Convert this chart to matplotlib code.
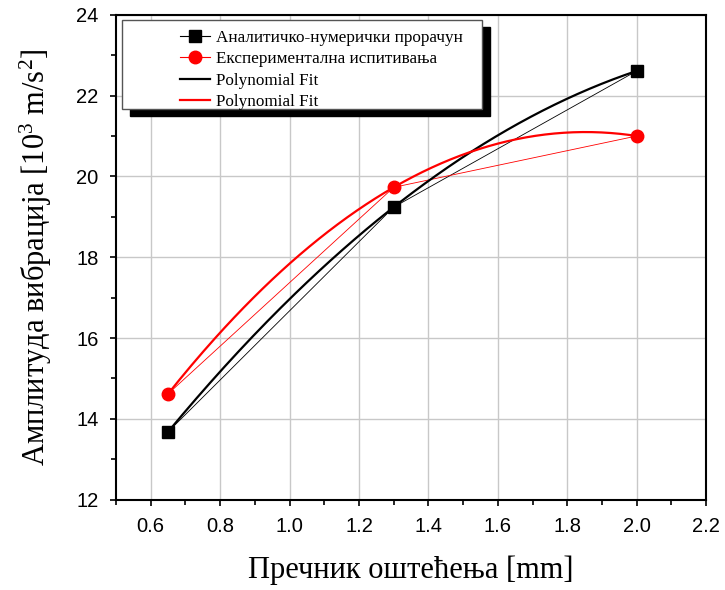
import numpy as np
import matplotlib
matplotlib.use("Agg")
import matplotlib.pyplot as plt
from matplotlib.patches import Rectangle
from matplotlib.lines import Line2D
from matplotlib.ticker import MultipleLocator, FormatStrFormatter

plt.rcParams['mathtext.fontset'] = 'custom'
plt.rcParams['mathtext.rm'] = 'Liberation Serif'
plt.rcParams['mathtext.it'] = 'Liberation Serif:italic'

# Damage diameter [mm]
diameter = [0.65, 1.3, 2.0]
# Vibration amplitude [10^3 m/s^2]
numerical = [13.68, 19.24, 22.61]
experimental = [14.62, 19.73, 21.00]

label_num = "Аналитичко-нумерички прорачун"
label_exp = "Експериментална испитивања"
label_fit = "Polynomial Fit"

serif = "Liberation Serif"
sans = "Liberation Sans"

fig = plt.figure(figsize=(7.25, 5.90), dpi=100)
ax = fig.add_axes([0.160, 0.153, 0.814, 0.822])

# second-order polynomial fits
xs = np.linspace(min(diameter), max(diameter), 200)
fit_num = np.polyval(np.polyfit(diameter, numerical, 2), xs)
fit_exp = np.polyval(np.polyfit(diameter, experimental, 2), xs)

ax.plot(diameter, numerical, color='black', lw=0.6, zorder=3)
ax.plot(diameter, experimental, color='red', lw=0.6, zorder=3)
ax.plot(xs, fit_num, color='black', lw=1.6, zorder=3)
ax.plot(xs, fit_exp, color='red', lw=1.6, zorder=3)
ax.plot(diameter, numerical, 's', color='black', ms=8, zorder=4)
ax.plot(diameter, experimental, 'o', color='red', ms=9, zorder=4)

ax.set_xlim(0.5, 2.2)
ax.set_ylim(12, 24)
ax.xaxis.set_minor_locator(MultipleLocator(0.1))
ax.yaxis.set_major_locator(MultipleLocator(2))
ax.yaxis.set_minor_locator(MultipleLocator(1))
ax.set_xticks([0.6, 0.8, 1.0, 1.2, 1.4, 1.6, 1.8, 2.0, 2.2])
ax.xaxis.set_major_formatter(FormatStrFormatter('%.1f'))

ax.grid(True, which='major', color='#c8c8c8', lw=1.0, zorder=0)
ax.set_axisbelow(True)

for s in ax.spines.values():
    s.set_linewidth(1.5)
ax.tick_params(which='both', direction='out', top=False, right=False, width=1.2)
ax.tick_params(which='major', length=4.5, labelsize=14.5, pad=8)
ax.tick_params(which='minor', length=3.5)
for lab in ax.get_xticklabels() + ax.get_yticklabels():
    lab.set_fontfamily(sans)

ax.set_xlabel("Пречник оштећења [mm]", fontfamily=serif, fontsize=22, labelpad=14)
ax.set_ylabel("Амплитуда вибрација [10$^{3}$ m/s$^{2}$]", fontfamily=serif,
              fontsize=22, labelpad=16)

# legend frame with a solid drop shadow
x0, x1, y0, y1 = 0.010, 0.620, 0.806, 0.990
dx, dy = 0.0135, -0.015
ax.add_patch(Rectangle((x0 + dx, y0 + dy), x1 - x0, y1 - y0, transform=ax.transAxes,
                       facecolor='black', edgecolor='black', zorder=5, clip_on=False))
ax.add_patch(Rectangle((x0, y0), x1 - x0, y1 - y0, transform=ax.transAxes,
                       facecolor='white', edgecolor='#555555', lw=1.0, zorder=6,
                       clip_on=False))

handles = [
    Line2D([], [], color='black', lw=0.8, marker='s', ms=8),
    Line2D([], [], color='red', lw=0.8, marker='o', ms=9),
    Line2D([], [], color='black', lw=1.6),
    Line2D([], [], color='red', lw=1.6),
]
leg = ax.legend(handles, [label_num, label_exp, label_fit, label_fit],
                loc='upper left', bbox_to_anchor=(0.108, 0.968), frameon=False,
                borderpad=0, borderaxespad=0, handlelength=1.8, handletextpad=0.3,
                labelspacing=0.3, prop={'family': serif, 'size': 12.3})
leg.set_zorder(7)

fig.savefig("out.png", dpi=100)
